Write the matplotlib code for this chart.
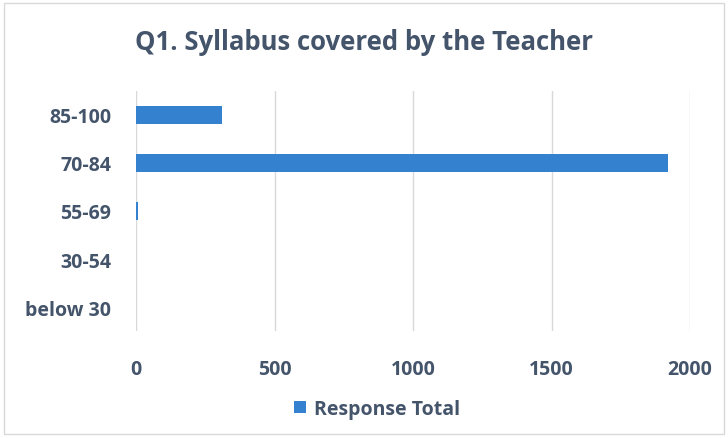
import matplotlib
matplotlib.use("Agg")
import matplotlib.pyplot as plt
from matplotlib.patches import Rectangle

categories = ["below 30", "30-54", "55-69", "70-84", "85-100"]
values = [0, 0, 8, 1920, 310]
xticks = [0, 500, 1000, 1500, 2000]
series_name = "Response Total"

text_color = "#44546A"
bar_color = "#3481CF"
grid_color = "#D9D9D9"

plt.rcParams['font.family'] = ['Open Sans', 'DejaVu Sans']

fig = plt.figure(figsize=(7.28, 4.39), dpi=100)
ax = fig.add_axes([136/728, 1 - 332/439, (690-136)/728, (332-92)/439])

y = list(range(len(categories)))
ax.barh(y, values, height=0.36, color=bar_color, label=series_name, zorder=3)

ax.set_xlim(0, 2000)
ax.set_ylim(-0.5, len(categories) - 0.5)
ax.set_xticks(xticks)
ax.set_xticklabels([str(t) for t in xticks], fontsize=14, fontweight='bold', color=text_color)
ax.set_yticks(y)
ax.set_yticklabels(categories, fontsize=14, fontweight='bold', color=text_color)
ax.tick_params(axis='x', length=0, pad=20)
ax.tick_params(axis='y', length=0, pad=18)
ax.grid(axis='x', color=grid_color, linewidth=1, zorder=0)
for s in ax.spines.values():
    s.set_visible(False)

fig.text(0.5, 1 - 42/439, "Q1. Syllabus covered by the Teacher", ha='center', va='center',
         fontsize=18.5, fontweight='bold', color=text_color)

fig.legend(loc='center', bbox_to_anchor=(377/728, 1 - 410/439), frameon=False,
           prop={'size': 14, 'weight': 'bold'}, labelcolor=text_color,
           handlelength=0.6, handleheight=0.6, handletextpad=0.4)

fig.patches.append(Rectangle((4/728, 4/439), 720/728, 431/439, transform=fig.transFigure,
                             fill=False, edgecolor='#D9D9D9', linewidth=1))

fig.savefig("out.png", dpi=100)
